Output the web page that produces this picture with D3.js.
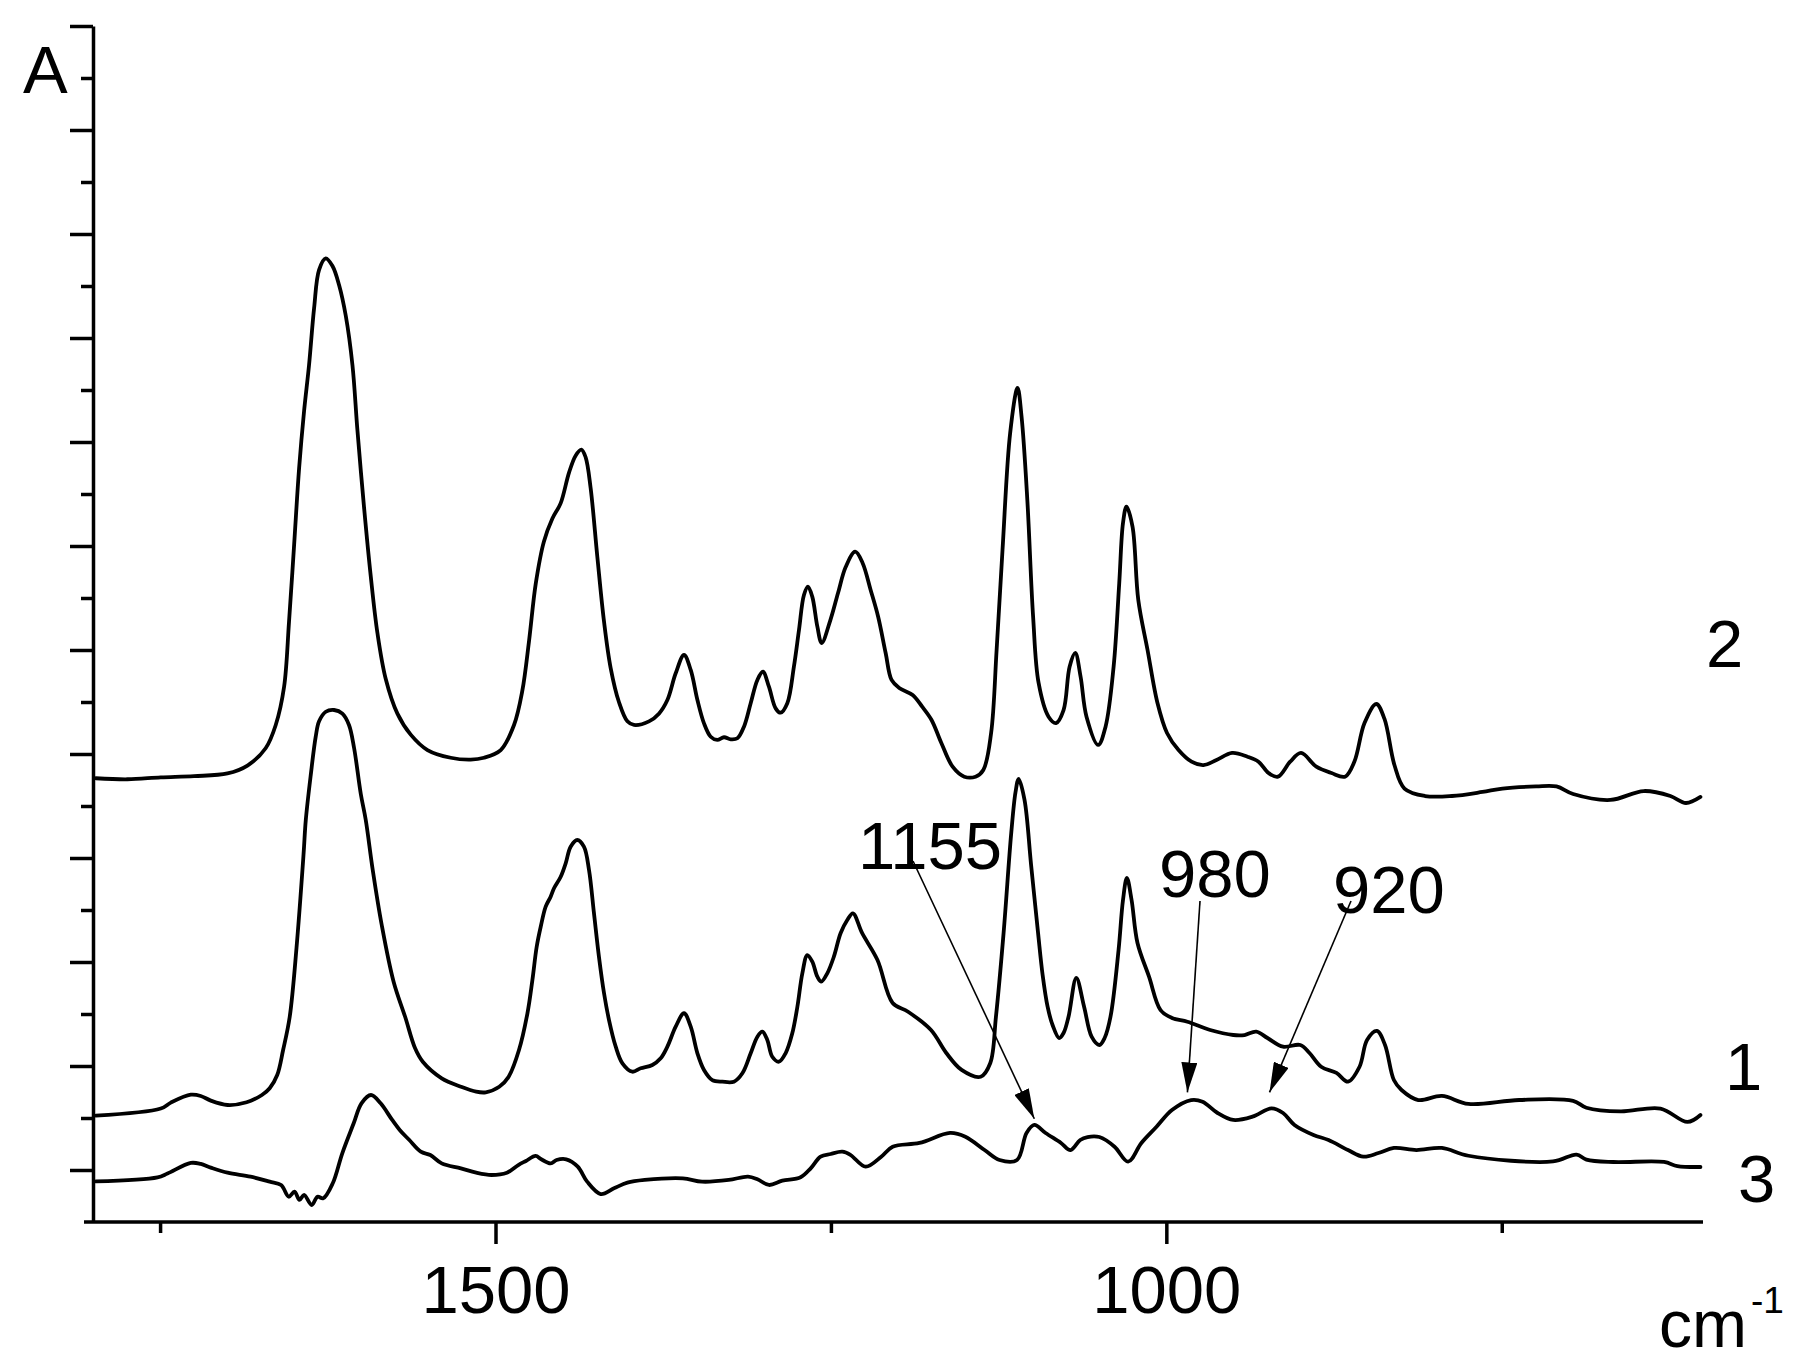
<!DOCTYPE html>
<html><head><meta charset="utf-8">
<script src="https://cdn.jsdelivr.net/npm/d3@7"></script>
<style>
html,body{margin:0;padding:0;background:#fff;}
svg{display:block;}
text{font-family:"Liberation Sans",Arial,sans-serif;fill:#000;}
</style>
</head><body>
<svg id="chart" width="1812" height="1368"></svg>
<script>
// ---------- data (wavenumber cm-1, absorbance a.u.) ----------
const spectrum1 = [[1797.9,0.1023],[1749.5,0.1091],[1742.0,0.1148],[1727.1,0.1224],[1719.7,0.1212],[1712.2,0.1167],[1699.7,0.1125],[1685.5,0.1151],[1674.1,0.1221],[1668.3,0.1286],[1662.7,0.1413],[1658.3,0.1654],[1653.4,0.1971],[1648.3,0.2638],[1643.1,0.3529],[1641.4,0.3865],[1637.7,0.4298],[1634.0,0.4667],[1631.5,0.4814],[1626.5,0.4906],[1620.3,0.4923],[1614.1,0.4888],[1609.2,0.4779],[1605.4,0.4558],[1600.4,0.4115],[1596.7,0.3865],[1591.5,0.3385],[1584.8,0.2856],[1575.9,0.2308],[1567.3,0.1971],[1560.0,0.1673],[1554.2,0.1541],[1540.1,0.1382],[1525.8,0.1301],[1514.4,0.1253],[1507.3,0.1247],[1497.2,0.1301],[1490.2,0.1397],[1482.5,0.1654],[1476.2,0.2007],[1472.5,0.2327],[1469.3,0.2647],[1466.3,0.2839],[1462.6,0.3032],[1458.9,0.3128],[1456.4,0.3209],[1451.4,0.3320],[1447.7,0.3449],[1444.0,0.3609],[1439.0,0.3673],[1434.1,0.3609],[1430.3,0.3385],[1426.6,0.2968],[1422.9,0.2551],[1419.1,0.2199],[1415.4,0.1942],[1410.4,0.1686],[1405.4,0.1526],[1398.0,0.1445],[1391.8,0.1478],[1383.1,0.1510],[1376.9,0.1574],[1371.9,0.1686],[1365.7,0.1878],[1359.5,0.2007],[1354.5,0.1878],[1349.5,0.1622],[1344.6,0.1462],[1338.4,0.1365],[1330.9,0.1349],[1322.3,0.1349],[1316.0,0.1430],[1309.8,0.1622],[1304.8,0.1782],[1301.1,0.1830],[1297.4,0.1750],[1293.7,0.1589],[1288.7,0.1541],[1283.8,0.1622],[1278.8,0.1814],[1275.0,0.2070],[1271.3,0.2391],[1267.6,0.2567],[1263.9,0.2503],[1260.1,0.2359],[1257.2,0.2311],[1252.7,0.2391],[1247.8,0.2551],[1242.8,0.2776],[1237.8,0.2904],[1233.6,0.2968],[1226.8,0.2779],[1215.3,0.2519],[1204.0,0.2106],[1192.5,0.2022],[1175.4,0.1846],[1164.0,0.1625],[1152.6,0.1462],[1138.4,0.1397],[1131.2,0.1529],[1127.0,0.1974],[1121.3,0.2779],[1115.6,0.3740],[1112.4,0.4135],[1110.1,0.4260],[1105.7,0.4058],[1100.8,0.3433],[1095.6,0.2779],[1092.2,0.2375],[1088.5,0.2070],[1084.8,0.1894],[1079.9,0.1769],[1076.6,0.1817],[1072.9,0.1974],[1067.1,0.2346],[1061.3,0.2070],[1055.7,0.1782],[1049.9,0.1702],[1046.0,0.1769],[1041.6,0.1974],[1035.6,0.2615],[1032.3,0.3096],[1029.4,0.3308],[1025.9,0.3096],[1021.5,0.2683],[1012.9,0.2359],[1004.3,0.2038],[995.8,0.1962],[984.3,0.1926],[967.3,0.1846],[950.1,0.1798],[941.7,0.1798],[933.0,0.1830],[924.6,0.1769],[913.0,0.1686],[900.2,0.1702],[893.3,0.1625],[884.6,0.1493],[873.2,0.1433],[864.6,0.1349],[856.0,0.1493],[850.4,0.1750],[843.0,0.1837],[837.0,0.1702],[830.4,0.1365],[824.7,0.1269],[812.2,0.1173],[794.6,0.1212],[774.8,0.1135],[737.0,0.1173],[696.8,0.1165],[686.9,0.1099],[661.5,0.1063],[631.7,0.1091],[611.6,0.0962],[601.9,0.1029]];

const spectrum2 = [[1797.9,0.4267],[1774.3,0.4257],[1749.5,0.4275],[1724.7,0.4287],[1699.8,0.4313],[1684.9,0.4389],[1671.2,0.4558],[1663.8,0.4779],[1657.6,0.5144],[1653.9,0.5771],[1650.1,0.6510],[1646.4,0.7243],[1642.7,0.7794],[1639.0,0.8237],[1635.2,0.8788],[1631.5,0.9156],[1626.5,0.9266],[1621.5,0.9192],[1616.6,0.9010],[1611.6,0.8714],[1606.6,0.8237],[1602.9,0.7611],[1598.0,0.6875],[1593.0,0.6212],[1588.0,0.5663],[1581.8,0.5221],[1573.1,0.4888],[1563.2,0.4686],[1550.7,0.4538],[1533.4,0.4464],[1518.5,0.4446],[1508.6,0.4464],[1496.1,0.4538],[1486.2,0.4779],[1480.0,0.5109],[1475.0,0.5587],[1470.0,0.6138],[1463.9,0.6543],[1457.6,0.6764],[1451.4,0.6912],[1445.2,0.7206],[1440.2,0.7371],[1436.0,0.7427],[1432.8,0.7353],[1429.1,0.7058],[1424.1,0.6396],[1419.1,0.5771],[1414.2,0.5329],[1408.0,0.5000],[1401.7,0.4814],[1396.8,0.4779],[1385.6,0.4814],[1378.2,0.4888],[1371.9,0.5019],[1365.7,0.5276],[1359.5,0.5452],[1354.5,0.5308],[1349.5,0.5019],[1344.6,0.4795],[1339.6,0.4666],[1334.7,0.4635],[1329.7,0.4661],[1324.7,0.4641],[1319.7,0.4651],[1314.8,0.4763],[1309.8,0.4988],[1304.8,0.5212],[1300.7,0.5291],[1296.2,0.5147],[1291.2,0.4939],[1287.5,0.4897],[1282.5,0.4988],[1277.6,0.5339],[1273.8,0.5692],[1270.1,0.6029],[1267.1,0.6109],[1263.9,0.6013],[1260.1,0.5724],[1256.9,0.5567],[1250.4,0.5788],[1244.7,0.6048],[1239.0,0.6298],[1231.9,0.6445],[1226.4,0.6337],[1220.4,0.6077],[1214.8,0.5820],[1209.2,0.5471],[1204.8,0.5212],[1199.1,0.5135],[1189.1,0.5067],[1182.0,0.4955],[1175.0,0.4827],[1167.7,0.4606],[1159.3,0.4378],[1150.6,0.4282],[1142.2,0.4282],[1136.4,0.4346],[1130.6,0.4702],[1126.5,0.5500],[1122.1,0.6462],[1116.4,0.7587],[1110.9,0.8019],[1107.9,0.7743],[1103.6,0.6942],[1099.3,0.5820],[1095.2,0.5183],[1087.8,0.4859],[1082.2,0.4798],[1076.6,0.4923],[1072.1,0.5339],[1067.9,0.5471],[1063.9,0.5243],[1059.5,0.4859],[1050.8,0.4587],[1045.3,0.4763],[1039.3,0.5339],[1035.1,0.6144],[1032.3,0.6721],[1029.7,0.6878],[1025.2,0.6686],[1020.9,0.5981],[1014.0,0.5500],[1006.6,0.4990],[999.5,0.4702],[990.9,0.4538],[981.2,0.4426],[972.3,0.4394],[962.6,0.4442],[951.0,0.4510],[939.5,0.4474],[931.3,0.4426],[923.8,0.4317],[916.8,0.4282],[907.7,0.4426],[899.6,0.4510],[888.2,0.4378],[876.9,0.4317],[866.8,0.4282],[859.8,0.4428],[852.3,0.4798],[843.5,0.4981],[837.4,0.4837],[830.0,0.4394],[822.5,0.4168],[807.2,0.4096],[787.1,0.4096],[764.4,0.4135],[749.5,0.4168],[724.4,0.4188],[709.2,0.4188],[696.8,0.4115],[669.1,0.4058],[644.1,0.4144],[624.3,0.4096],[612.7,0.4029],[601.9,0.4087]];

const spectrum3 = [[1797.9,0.0390],[1751.9,0.0429],[1744.5,0.0466],[1727.1,0.0568],[1719.7,0.0558],[1712.2,0.0523],[1699.7,0.0474],[1682.6,0.0436],[1668.3,0.0388],[1659.8,0.0356],[1654.1,0.0243],[1649.8,0.0291],[1646.1,0.0212],[1642.7,0.0260],[1637.0,0.0163],[1632.7,0.0243],[1628.4,0.0228],[1621.3,0.0372],[1614.2,0.0661],[1605.7,0.0949],[1599.9,0.1141],[1592.8,0.1221],[1585.6,0.1141],[1577.0,0.0981],[1571.4,0.0885],[1564.2,0.0788],[1555.7,0.0676],[1548.6,0.0644],[1540.1,0.0564],[1525.8,0.0516],[1514.4,0.0474],[1503.0,0.0452],[1491.5,0.0474],[1483.0,0.0548],[1477.3,0.0587],[1470.1,0.0635],[1465.9,0.0603],[1458.9,0.0564],[1454.5,0.0596],[1447.3,0.0603],[1438.7,0.0532],[1431.7,0.0388],[1421.6,0.0269],[1411.7,0.0324],[1401.7,0.0378],[1388.8,0.0404],[1360.4,0.0420],[1346.1,0.0388],[1326.2,0.0404],[1311.8,0.0436],[1304.8,0.0411],[1296.2,0.0356],[1286.2,0.0397],[1272.6,0.0430],[1265.1,0.0516],[1257.7,0.0628],[1250.2,0.0654],[1241.5,0.0676],[1235.3,0.0644],[1224.1,0.0532],[1212.5,0.0628],[1204.0,0.0724],[1184.0,0.0760],[1161.2,0.0856],[1149.8,0.0820],[1135.5,0.0692],[1124.3,0.0596],[1111.3,0.0596],[1104.2,0.0856],[1098.4,0.0933],[1090.0,0.0856],[1078.5,0.0760],[1071.4,0.0692],[1064.2,0.0788],[1058.7,0.0817],[1049.9,0.0817],[1038.6,0.0724],[1028.5,0.0580],[1018.6,0.0760],[1007.3,0.0916],[995.8,0.1077],[981.5,0.1173],[973.0,0.1157],[961.8,0.1048],[950.1,0.0981],[935.8,0.1013],[921.6,0.1093],[913.0,0.1048],[904.5,0.0933],[890.3,0.0837],[879.1,0.0788],[864.6,0.0692],[853.1,0.0628],[841.9,0.0663],[830.4,0.0712],[813.6,0.0692],[794.6,0.0712],[774.8,0.0637],[711.8,0.0582],[694.3,0.0648],[686.9,0.0600],[666.8,0.0577],[629.0,0.0577],[619.1,0.0538],[601.9,0.0529]];

const seriesLabels = ["1", "2", "3"];
const xMajorTicks = [1500, 1000];
const xMinorTicks = [1750, 1250, 750];
const yMajorTicks = [0.05, 0.15, 0.25, 0.35, 0.45, 0.55, 0.65, 0.75, 0.85, 0.95, 1.05, 1.15];
const yMinorTicks = [0.1, 0.2, 0.3, 0.4, 0.5, 0.6, 0.7, 0.8, 0.9, 1.0, 1.1];
const peakLabels = ["1155", "980", "920"];
const peakTargets = [[1098.4, 0.0993], [984.3, 0.1246], [923.1, 0.1246]];

// ---------- layout ----------
const FONT = '"Liberation Sans", Arial, sans-serif';
const svg = d3.select("#chart");
const x = d3.scaleLinear().domain([1800, 600]).range([93, 1703]);
const y = d3.scaleLinear().domain([0, 1.15]).range([1222, 26]);
const AX_W = 3.5;

// y axis
const gy = svg.append("g").attr("transform", `translate(${x(1800)},0)`);
gy.call(d3.axisLeft(y).tickValues(yMajorTicks).tickSize(23).tickSizeOuter(0).tickFormat(""));
gy.append("g").call(d3.axisLeft(y).tickValues(yMinorTicks).tickSize(12).tickSizeOuter(0).tickFormat(""))
  .select(".domain").remove();
gy.selectAll("line").attr("stroke", "#000").attr("stroke-width", AX_W);
gy.select(".domain").attr("stroke", "#000").attr("stroke-width", AX_W);

// x axis
const gx = svg.append("g").attr("transform", "translate(0,1222)");
gx.call(d3.axisBottom(x).tickValues(xMajorTicks).tickSize(22).tickSizeOuter(0).tickPadding(21).tickFormat(d3.format("d")));
gx.attr("font-family", FONT).attr("font-size", 67);
gx.append("g").call(d3.axisBottom(x).tickValues(xMinorTicks).tickSize(11).tickSizeOuter(0).tickFormat(""))
  .select(".domain").remove();
gx.select(".domain").remove();
gx.selectAll("line").attr("stroke", "#000").attr("stroke-width", AX_W);
gx.selectAll("text").attr("fill", "#000").style("font-size", "67px").style("font-family", FONT);
gx.append("line").attr("x1", 84).attr("x2", x(600)).attr("y1", 0).attr("y2", 0)
  .attr("stroke", "#000").attr("stroke-width", AX_W);

// spectra
const line = d3.line().x(d => x(d[0])).y(d => y(d[1])).curve(d3.curveCatmullRom.alpha(0.5));
[spectrum1, spectrum2, spectrum3].forEach(s => {
  svg.append("path").datum(s).attr("d", line)
    .attr("fill", "none").attr("stroke", "#000").attr("stroke-width", 3.8)
    .attr("stroke-linejoin", "round").attr("stroke-linecap", "round");
});

// axis titles
svg.append("text").attr("x", 23).attr("y", 93).attr("font-size", 67).text("A");
svg.append("text").attr("x", 1659).attr("y", 1347).attr("font-size", 66).text("cm");
svg.append("text").attr("x", 1751).attr("y", 1313).attr("font-size", 37).text("-1");

// series labels
const seriesPos = [[1725, 1090], [1706, 667], [1738, 1202]];
seriesLabels.forEach((t, i) => {
  svg.append("text").attr("x", seriesPos[i][0]).attr("y", seriesPos[i][1]).attr("font-size", 67).text(t);
});

// peak annotations
const defs = svg.append("defs");
defs.append("marker").attr("id", "arrow").attr("markerUnits", "userSpaceOnUse")
  .attr("markerWidth", 30).attr("markerHeight", 16).attr("refX", 30).attr("refY", 8)
  .attr("orient", "auto")
  .append("path").attr("d", "M0,0L30,8L0,16Z").attr("fill", "#000");

const labelPos = [[858, 869], [1159, 897], [1333, 913]];
const arrowStart = [[913, 861], [1200, 901], [1351, 901]];
peakLabels.forEach((t, i) => {
  svg.append("text").attr("x", labelPos[i][0]).attr("y", labelPos[i][1]).attr("font-size", 67).text(t);
  svg.append("line")
    .attr("x1", arrowStart[i][0]).attr("y1", arrowStart[i][1])
    .attr("x2", x(peakTargets[i][0])).attr("y2", y(peakTargets[i][1]))
    .attr("stroke", "#000").attr("stroke-width", 1.6).attr("marker-end", "url(#arrow)");
});
</script>
</body></html>
